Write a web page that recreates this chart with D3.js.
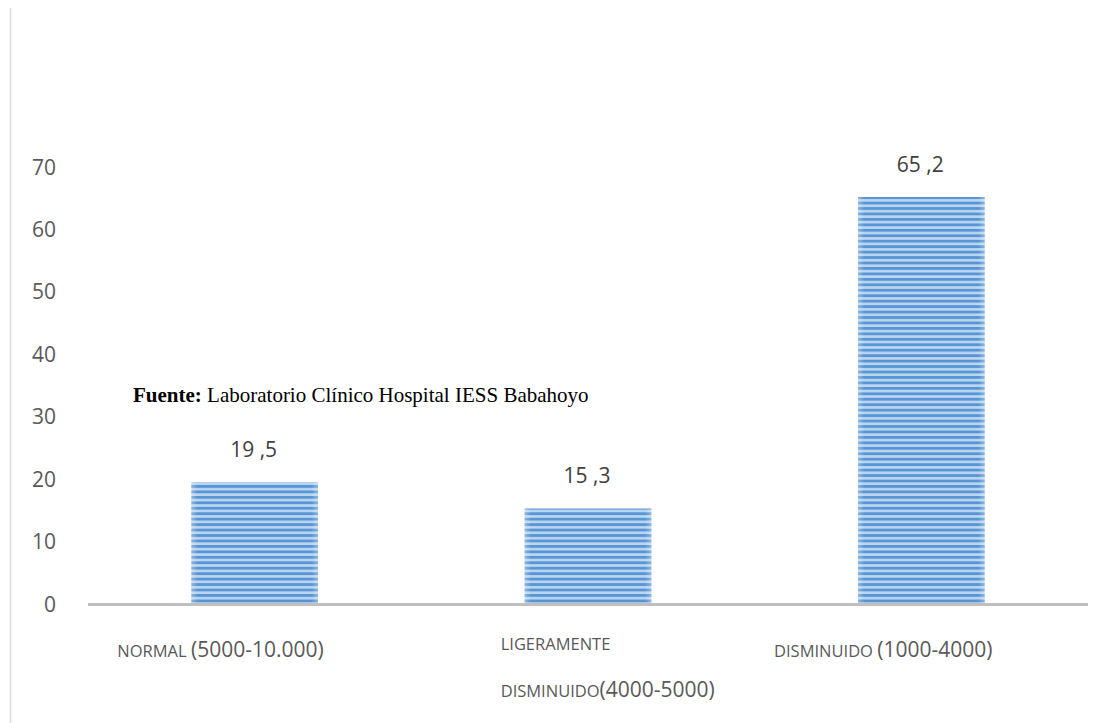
<!DOCTYPE html>
<html><head><meta charset="utf-8">
<script src="https://cdn.jsdelivr.net/npm/d3@7"></script>
<style>body{margin:0;background:#fff}svg{display:block}</style>
</head><body>
<script>
const categories = ["NORMAL (5000-10.000)", "LIGERAMENTE DISMINUIDO(4000-5000)", "DISMINUIDO (1000-4000)"];
const values = [19.5, 15.3, 65.2];
const valueLabels = ["19 ,5", "15 ,3", "65 ,2"];
const yTicks = [0, 10, 20, 30, 40, 50, 60, 70];

const W = 1110, H = 723;
const svg = d3.select("body").append("svg").attr("width", W).attr("height", H);
const font = "'Open Sans', 'Noto Sans', sans-serif";

const defs = svg.append("defs");
const pat = defs.append("pattern").attr("id", "stripes").attr("patternUnits", "userSpaceOnUse")
  .attr("width", 10).attr("height", 5.45);
pat.append("rect").attr("width", 10).attr("height", 5.45).attr("fill", "#bcd5ee");
pat.append("rect").attr("y", 0).attr("width", 10).attr("height", 2.8).attr("fill", "#5796d6");
const grad = defs.append("linearGradient").attr("id", "edge").attr("x1", 0).attr("x2", 1);
grad.append("stop").attr("offset", 0).attr("stop-color", "#fff").attr("stop-opacity", 0.3);
grad.append("stop").attr("offset", 0.05).attr("stop-color", "#fff").attr("stop-opacity", 0);
grad.append("stop").attr("offset", 0.95).attr("stop-color", "#fff").attr("stop-opacity", 0);
grad.append("stop").attr("offset", 1).attr("stop-color", "#fff").attr("stop-opacity", 0.3);

// left border
svg.append("line").attr("x1", 10.5).attr("x2", 10.5).attr("y1", 8).attr("y2", H)
  .attr("stroke", "#d9d9d9").attr("stroke-width", 1.5);

const x = d3.scaleBand().domain(categories).range([88, 1088]).paddingInner(0.62).paddingOuter(0.31);
const y = d3.scaleLinear().domain([0, 70]).range([604, 167]);

// y axis labels
const yAxis = d3.axisLeft(y).tickValues(yTicks).tickSize(0).tickPadding(0);
const gy = svg.append("g").attr("transform", "translate(56,0)").call(yAxis);
gy.select(".domain").remove();
gy.selectAll("text").attr("font-family", font).attr("font-size", 21).attr("fill", "#595959").attr("dy", "0.34em");

// bars
const bars = svg.append("g").selectAll("g").data(categories).join("g");
bars.append("rect")
  .attr("x", d => x(d)).attr("width", x.bandwidth())
  .attr("y", (d, i) => y(values[i])).attr("height", (d, i) => y(0) - y(values[i]))
  .attr("fill", "url(#stripes)");
bars.append("rect")
  .attr("x", d => x(d)).attr("width", x.bandwidth())
  .attr("y", (d, i) => y(values[i])).attr("height", (d, i) => y(0) - y(values[i]))
  .attr("fill", "url(#edge)");

// value labels
svg.append("g").selectAll("text").data(categories).join("text")
  .attr("x", d => x(d) + x.bandwidth() / 2 - 1).attr("y", (d, i) => y(values[i]) - 25)
  .attr("text-anchor", "middle").attr("font-family", font).attr("font-size", 21).attr("fill", "#404040")
  .text((d, i) => valueLabels[i]);

// baseline
svg.append("line").attr("x1", 88).attr("x2", 1088).attr("y1", y(0) + 0.5).attr("y2", y(0) + 0.5)
  .attr("stroke", "#bfbfbf").attr("stroke-width", 3);

// x labels
const xl = svg.append("g").attr("font-family", font).attr("fill", "#595959");
function lab(xPos, yPos, smallTxt, bigTxt) {
  const te = xl.append("text").attr("x", xPos).attr("y", yPos);
  te.append("tspan").attr("font-size", 16.5).text(smallTxt);
  if (bigTxt) te.append("tspan").attr("font-size", 21).text(bigTxt);
}
const b0 = x(categories[0]), b1 = x(categories[1]), b2 = x(categories[2]);
lab(b0 - 74, 657, "NORMAL ", "(5000-10.000)");
lab(b1 - 24, 650, "LIGERAMENTE", "");
lab(b1 - 24, 697, "DISMINUIDO", "(4000-5000)");
lab(b2 - 84, 657, "DISMINUIDO ", "(1000-4000)");

// source note
const src = svg.append("text").attr("x", 133).attr("y", 402)
  .attr("font-family", "'Liberation Serif', 'Times New Roman', serif").attr("font-size", 21).attr("fill", "#000");
src.append("tspan").attr("font-weight", "bold").text("Fuente:");
src.append("tspan").text(" Laboratorio Clínico Hospital IESS Babahoyo");
</script>
</body></html>
